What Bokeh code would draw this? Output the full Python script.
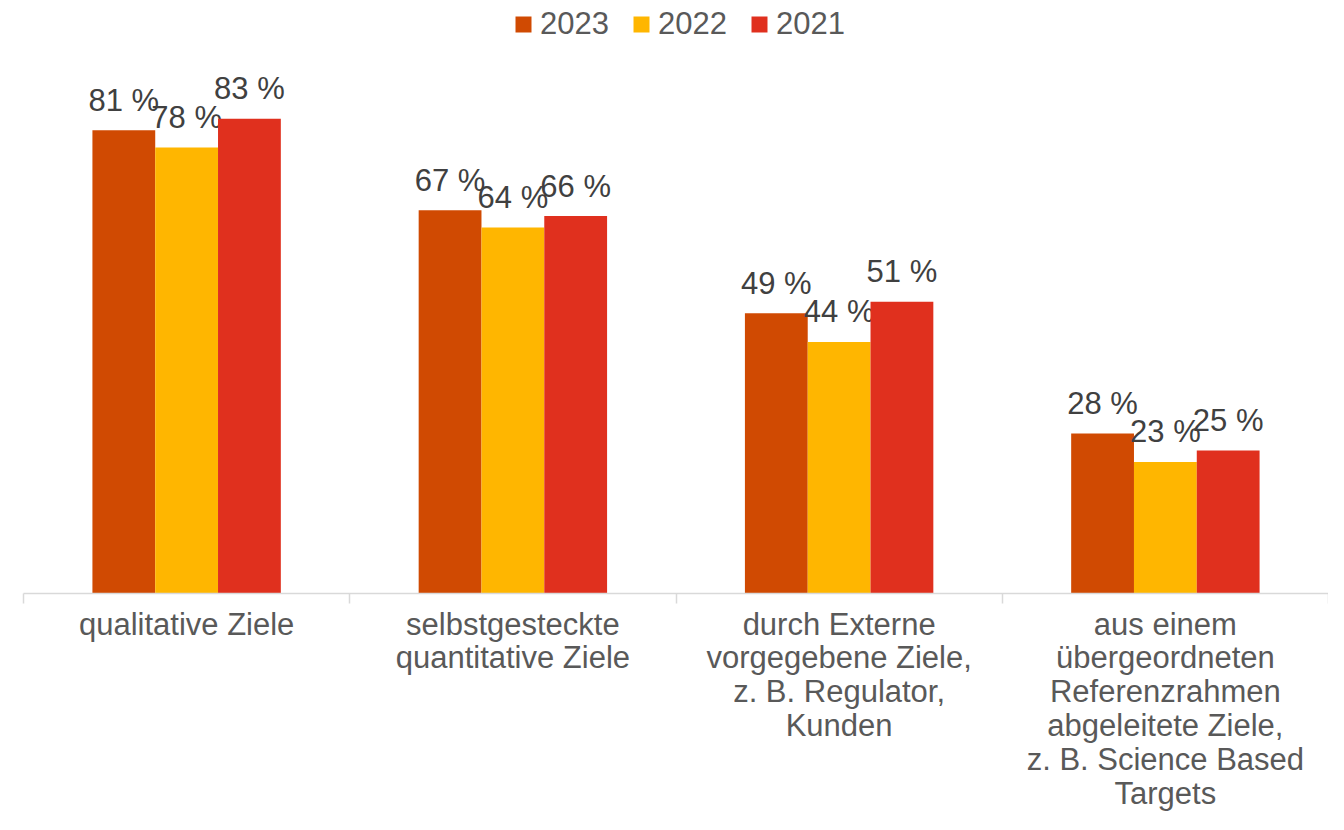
from bokeh.plotting import figure
from bokeh.models import ColumnDataSource, FixedTicker, Range1d, Legend
from bokeh.transform import dodge
from bokeh.core.properties import value
from bokeh.embed import file_html
from bokeh.resources import INLINE

categories = [
    "qualitative Ziele",
    "selbstgesteckte\nquantitative Ziele",
    "durch Externe\nvorgegebene Ziele,\nz. B. Regulator,\nKunden",
    "aus einem\nübergeordneten\nReferenzrahmen\nabgeleitete Ziele,\nz. B. Science Based\nTargets",
]
series_names = ["2023", "2022", "2021"]
values_2023 = [81, 67, 49, 28]
values_2022 = [78, 64, 44, 23]
values_2021 = [83, 66, 51, 25]
colors = ["#D04A02", "#FFB600", "#E0301E"]

FONT = "Liberation Sans"
centers = [i + 0.5 for i in range(len(categories))]
src = ColumnDataSource(dict(
    x=centers,
    v2023=values_2023, v2022=values_2022, v2021=values_2021,
    l2023=[f"{v} %" for v in values_2023],
    l2022=[f"{v} %" for v in values_2022],
    l2021=[f"{v} %" for v in values_2021],
))

p = figure(width=1328, height=814, output_backend="svg", toolbar_location=None,
           x_range=Range1d(0, len(categories)), y_range=Range1d(0, 103.7),
           min_border_left=23, min_border_right=0, min_border_top=0,
           min_border_bottom=221, y_axis_location=None)
p.outline_line_color = None
p.xgrid.grid_line_color = None
p.ygrid.grid_line_color = None
p.background_fill_color = "white"
p.border_fill_color = "white"

bw = 0.1925
offsets = [-bw, 0.0, bw]
fields = ["v2023", "v2022", "v2021"]
lfields = ["l2023", "l2022", "l2021"]
items = []
for name, fld, lf, off, col in zip(series_names, fields, lfields, offsets, colors):
    r = p.vbar(x=dodge("x", off), top=fld, width=bw, source=src,
               fill_color=col, line_color=None)
    items.append((name, [r]))
    p.text(x=dodge("x", off), y=fld, text=lf, source=src,
           text_align="center", text_baseline="alphabetic", y_offset=-30,
           text_font=value(FONT), text_font_size="31px", text_color="#404040")

legend = Legend(items=items, orientation="horizontal", location=(490, 551),
                background_fill_alpha=0, border_line_color=None,
                margin=0, padding=0, spacing=22, label_standoff=7,
                glyph_width=20, glyph_height=20,
                label_text_font=FONT, label_text_font_size="31px",
                label_text_color="#595959")
p.add_layout(legend, "center")

ax = p.xaxis[0]
ax.ticker = FixedTicker(ticks=centers, minor_ticks=[0, 1, 2, 3, 4])
ax.major_label_overrides = {c: lab for c, lab in zip(centers, categories)}
ax.major_tick_line_color = None
ax.major_tick_out = 0
ax.major_tick_in = 0
ax.minor_tick_line_color = "#D9D9D9"
ax.minor_tick_line_width = 1.5
ax.minor_tick_out = 10
ax.minor_tick_in = 0
ax.axis_line_color = "#D9D9D9"
ax.axis_line_width = 1.5
ax.major_label_standoff = 3
ax.major_label_text_font = FONT
ax.major_label_text_font_size = "31px"
ax.major_label_text_color = "#595959"
ax.major_label_text_line_height = 0.97

open("out.html", "w").write(file_html(p, INLINE))
